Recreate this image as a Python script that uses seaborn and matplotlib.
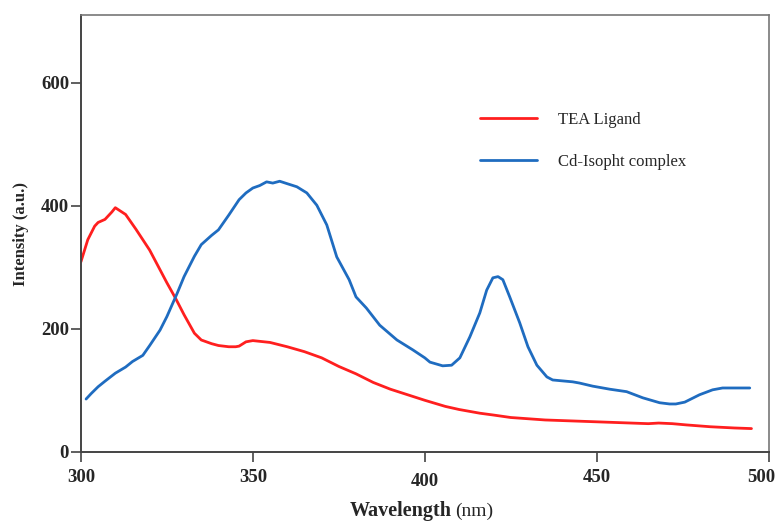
import numpy as np
import pandas as pd
import matplotlib
matplotlib.use("Agg")
import matplotlib.pyplot as plt
import matplotlib.transforms as mtransforms
from matplotlib.lines import Line2D
import seaborn as sns

# ---- data ----
tea_x = [300, 302, 304, 305, 307, 309, 310, 313, 316, 320, 325, 327.5, 330, 333, 335,
         338, 340, 343, 345, 346, 348, 350, 355, 360, 365, 370, 375, 380, 385, 390,
         395, 400, 406, 410, 416, 420, 425, 430, 435, 440, 445, 450, 455, 460, 465,
         468, 472, 476, 483, 490, 495]
tea_y = [309, 345, 367, 373, 378, 390, 397, 386, 362, 328, 275, 250, 223, 193, 182,
         176, 173, 171, 171, 172, 179, 181, 178, 171, 163, 153, 139, 127, 113, 102,
         93, 84, 74, 69, 63, 60, 56, 54, 52, 51, 50, 49, 48, 47, 46,
         47, 46, 44, 41, 39, 38]

cd_x = [301.5, 303, 305, 307, 310, 313, 315, 318, 320, 323, 325, 328, 330, 333, 335,
        338, 340, 343, 346, 348, 350, 352, 354, 355.8, 357.8, 360, 362.8, 365.7, 368.6,
        371.5, 374.4, 378, 380, 383, 386.9, 391.9, 396.5, 400, 401.5, 405.2, 407.8,
        410.2, 413.1, 416, 418, 419.8, 421.3, 422.7, 424.7, 427.6, 430, 432.6, 435.5,
        437.2, 443, 445, 448.8, 453.8, 458.7, 463.4, 468.3, 471.2, 473, 475.6, 479.9,
        483.7, 486.6, 494.5]
cd_y = [86, 95, 106, 115, 128, 138, 147, 157, 173, 198, 220, 258, 285, 318, 337,
        352, 361, 385, 410, 421, 429, 433, 439, 437, 440, 436, 431, 421, 401,
        369, 317, 280, 252, 234, 206, 182, 166, 153, 146, 140, 141,
        153, 187, 226, 263, 283, 285, 280, 252, 210, 171, 141, 122,
        117, 114, 112, 107, 102, 98, 88, 80, 78, 78, 81, 93,
        101, 104, 104]

series_names = ["TEA Ligand", "Cd-Isopht complex"]
series_colors = ["#ff1f1f", "#1f6cc0"]
x_ticks = [300, 350, 400, 450, 500]
y_ticks = [0, 200, 400, 600]

df = pd.concat([
    pd.DataFrame({"x": tea_x, "y": tea_y, "s": series_names[0]}),
    pd.DataFrame({"x": cd_x, "y": cd_y, "s": series_names[1]}),
], ignore_index=True)

sns.set_style("white")
plt.rcParams["font.family"] = ["Liberation Serif", "DejaVu Serif"]

fig = plt.figure(figsize=(7.78, 5.21), dpi=100)
ax = fig.add_axes([0.104, 0.1325, 0.884, 0.8385])

sns.lineplot(data=df, x="x", y="y", hue="s", palette=dict(zip(series_names, series_colors)),
             estimator=None, sort=False, linewidth=2.0, ax=ax, legend=False)

ax.set_xlim(300, 500)
ax.set_ylim(0, 710)
ax.set_xticks(x_ticks)
ax.set_yticks(y_ticks)
ax.set_xticklabels([str(t) for t in x_ticks], fontweight="bold", fontsize=13.5)
ax.set_yticklabels([str(t) for t in y_ticks], fontweight="bold", fontsize=13.5)
ax.tick_params(axis="both", direction="out", length=7, width=1.2, color="#444444",
               bottom=True, left=True)
ax.tick_params(axis="x", pad=5)
ax.tick_params(axis="y", pad=1.5)

# small offsets as in the reference (400 label sits lower, 500 label shifted left)
xl = ax.get_xticklabels()
xl[2].set_transform(xl[2].get_transform() + mtransforms.ScaledTranslation(0, -4 / 100, fig.dpi_scale_trans))
xl[4].set_transform(xl[4].get_transform() + mtransforms.ScaledTranslation(-7 / 100, 0, fig.dpi_scale_trans))

for side in ["left", "bottom"]:
    ax.spines[side].set_color("#444444")
    ax.spines[side].set_linewidth(1.4)
for side in ["top", "right"]:
    ax.spines[side].set_color("#777777")
    ax.spines[side].set_linewidth(1.2)

ax.set_xlabel("")
ax.set_ylabel("Intensity (a.u.)", fontweight="bold", fontsize=12)
ax.yaxis.set_label_coords(-0.076, 0.5)

fig.text(452 / 778, 1 - 516 / 521, "Wavelength", fontsize=14.5, fontweight="bold",
         ha="right", va="baseline")
fig.text(455 / 778, 1 - 516 / 521, "(nm)", fontsize=14, ha="left", va="baseline")

handles = [Line2D([0], [0], color=c, lw=2.0) for c in series_colors]
ax.legend(handles, series_names, loc="upper left", bbox_to_anchor=(480 / 778, 1 - 112 / 521),
          bbox_transform=fig.transFigure, frameon=False, fontsize=12,
          handlelength=3.4, handletextpad=1.25, labelspacing=1.55, borderpad=0,
          borderaxespad=0)

fig.savefig("out.png", dpi=100)
